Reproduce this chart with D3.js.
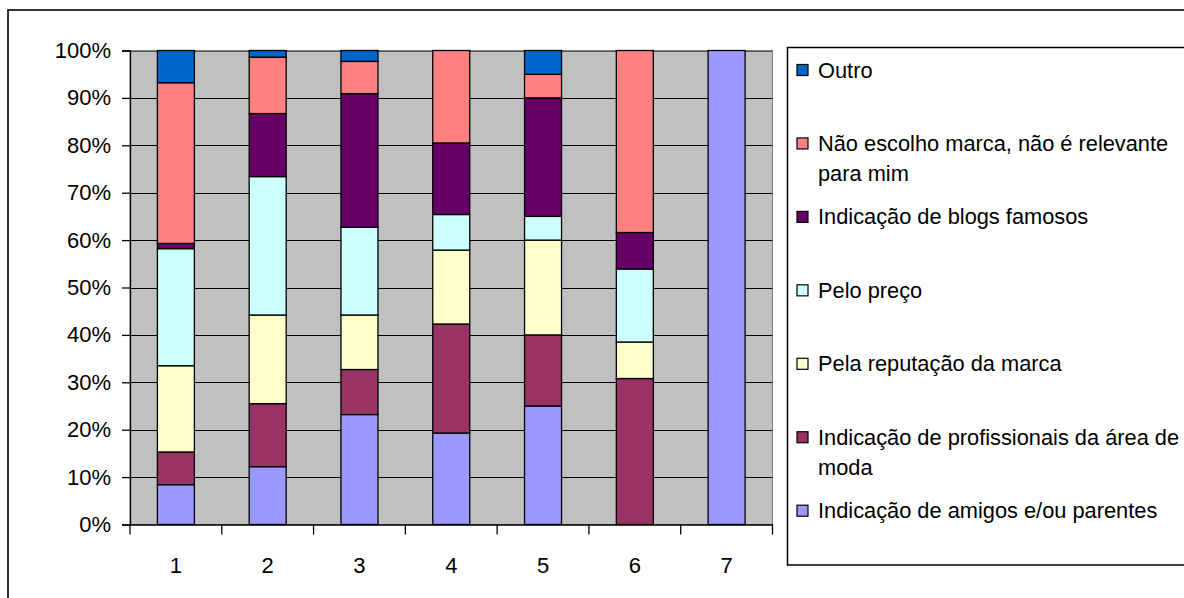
<!DOCTYPE html>
<html>
<head>
<meta charset="utf-8">
<script src="https://cdn.jsdelivr.net/npm/d3@7"></script>
<style>
  html, body { margin: 0; padding: 0; background: #fff; }
  svg { display: block; font-family: Arial, "Liberation Sans", sans-serif; }
</style>
</head>
<body>
<svg id="chart" width="1184" height="598"></svg>
<script>
// ---- data ----
const categories = ["1", "2", "3", "4", "5", "6", "7"];
const amigos        = [8.4, 12.2, 23.2, 19.3, 25.0, 0, 100];
const profissionais = [6.9, 13.3, 9.5, 23.0, 15.0, 30.8, 0];
const reputacao     = [18.2, 18.7, 11.5, 15.6, 20.0, 7.7, 0];
const preco         = [24.7, 29.2, 18.5, 7.5, 5.0, 15.4, 0];
const blogs         = [1.1, 13.3, 28.2, 15.1, 25.0, 7.7, 0];
const naoEscolho    = [33.9, 11.9, 6.8, 19.5, 5.0, 38.4, 0];
const outro         = [6.8, 1.4, 2.3, 0, 5.0, 0, 0];

const seriesNames = [
  "Indicação de amigos e/ou parentes",
  "Indicação de profissionais da área de\nmoda",
  "Pela reputação da marca",
  "Pelo preço",
  "Indicação de blogs famosos",
  "Não escolho marca, não é relevante\npara mim",
  "Outro"
];
const seriesValues = [amigos, profissionais, reputacao, preco, blogs, naoEscolho, outro];
const seriesColors = ["#9999FF", "#993366", "#FFFFCC", "#CCFFFF", "#660066", "#FF8080", "#0066CC"];
const yTicks = [0, 10, 20, 30, 40, 50, 60, 70, 80, 90, 100];

// ---- build table ----
const keys = seriesNames.map((d, i) => "s" + i);
const table = categories.map((c, j) => {
  const row = { cat: c };
  keys.forEach((k, i) => row[k] = seriesValues[i][j]);
  return row;
});
const stacked = d3.stack().keys(keys)(table);

const svg = d3.select("#chart");
const plot = { left: 130, right: 772.5, top: 50.5, bottom: 524.5 };

const x = d3.scaleBand().domain(categories)
  .range([plot.left, plot.right]).paddingInner(0.597).paddingOuter(0.2985);
const y = d3.scaleLinear().domain([0, 100]).range([plot.bottom, plot.top]);

// outer frame
svg.append("rect").attr("x", 8).attr("y", 10).attr("width", 1300).attr("height", 700)
  .attr("fill", "none").attr("stroke", "#000").attr("stroke-width", 1.6);

// plot background
svg.append("rect").attr("x", plot.left).attr("y", plot.top)
  .attr("width", plot.right - plot.left).attr("height", plot.bottom - plot.top)
  .attr("fill", "#C0C0C0").attr("stroke", "#808080").attr("stroke-width", 1);

// gridlines
svg.append("g").selectAll("line").data(yTicks.filter(t => t > 0)).join("line")
  .attr("x1", plot.left).attr("x2", plot.right)
  .attr("y1", d => Math.round(y(d)) + 0.5).attr("y2", d => Math.round(y(d)) + 0.5)
  .attr("stroke", d => d === 100 ? "#555" : "#000").attr("stroke-width", 1);

// bars
svg.append("g").selectAll("g").data(stacked).join("g")
  .attr("fill", (d, i) => seriesColors[i])
  .selectAll("rect").data(d => d.filter(s => s[1] - s[0] > 0)).join("rect")
  .attr("x", d => x(d.data.cat))
  .attr("width", x.bandwidth())
  .attr("y", d => y(d[1]))
  .attr("height", d => y(d[0]) - y(d[1]))
  .attr("stroke", "#000").attr("stroke-width", 1.3);

// y axis
const yAxis = d3.axisLeft(y).tickValues(yTicks).tickFormat(d => d + "%")
  .tickSize(8).tickPadding(11);
const gy = svg.append("g").attr("transform", `translate(${plot.left},0)`).call(yAxis);
gy.select(".domain").attr("stroke", "#000").attr("stroke-width", 1.3);
gy.selectAll(".tick line").attr("stroke", "#000").attr("stroke-width", 1.3);
gy.selectAll(".tick text").attr("font-size", 22).attr("fill", "#000")
  .attr("font-family", "Arial, 'Liberation Sans', sans-serif");

// x axis
const xAxis = d3.axisBottom(x).tickSize(0).tickPadding(0);
const gx = svg.append("g").attr("transform", `translate(0,${plot.bottom})`).call(xAxis);
gx.select(".domain").attr("stroke", "#000").attr("stroke-width", 1.3);
gx.selectAll(".tick text").attr("font-size", 22).attr("fill", "#000")
  .attr("dy", 0).attr("y", 48.5)
  .attr("font-family", "Arial, 'Liberation Sans', sans-serif");
// category separators ticks
const bounds = categories.map(c => x(c) - x.step() * x.paddingOuter()).concat([plot.right]);
gx.append("g").selectAll("line").data(bounds).join("line")
  .attr("x1", d => d).attr("x2", d => d).attr("y1", 0).attr("y2", 10)
  .attr("stroke", "#000").attr("stroke-width", 1.3);

// legend
const lg = svg.append("g");
lg.append("rect").attr("x", 787.5).attr("y", 47.5).attr("width", 460).attr("height", 517.5)
  .attr("fill", "#fff").attr("stroke", "#000").attr("stroke-width", 1.5);
const legendOrder = d3.range(seriesNames.length).reverse();
const ly = d3.scaleLinear().domain([0, legendOrder.length - 1]).range([70, 510.7]);
legendOrder.forEach((si, i) => {
  const cy = ly(i);
  lg.append("rect").attr("x", 797).attr("y", cy - 5.5).attr("width", 11).attr("height", 11)
    .attr("fill", seriesColors[si]).attr("stroke", "#000").attr("stroke-width", 1.2);
  const lines = seriesNames[si].split("\n");
  const t = lg.append("text").attr("x", 818).attr("y", cy + 7.5)
    .attr("font-size", 21.8).attr("fill", "#000");
  lines.forEach((ln, k) => {
    t.append("tspan").attr("x", 818).attr("dy", k === 0 ? 0 : 30).text(ln);
  });
});
</script>
</body>
</html>
